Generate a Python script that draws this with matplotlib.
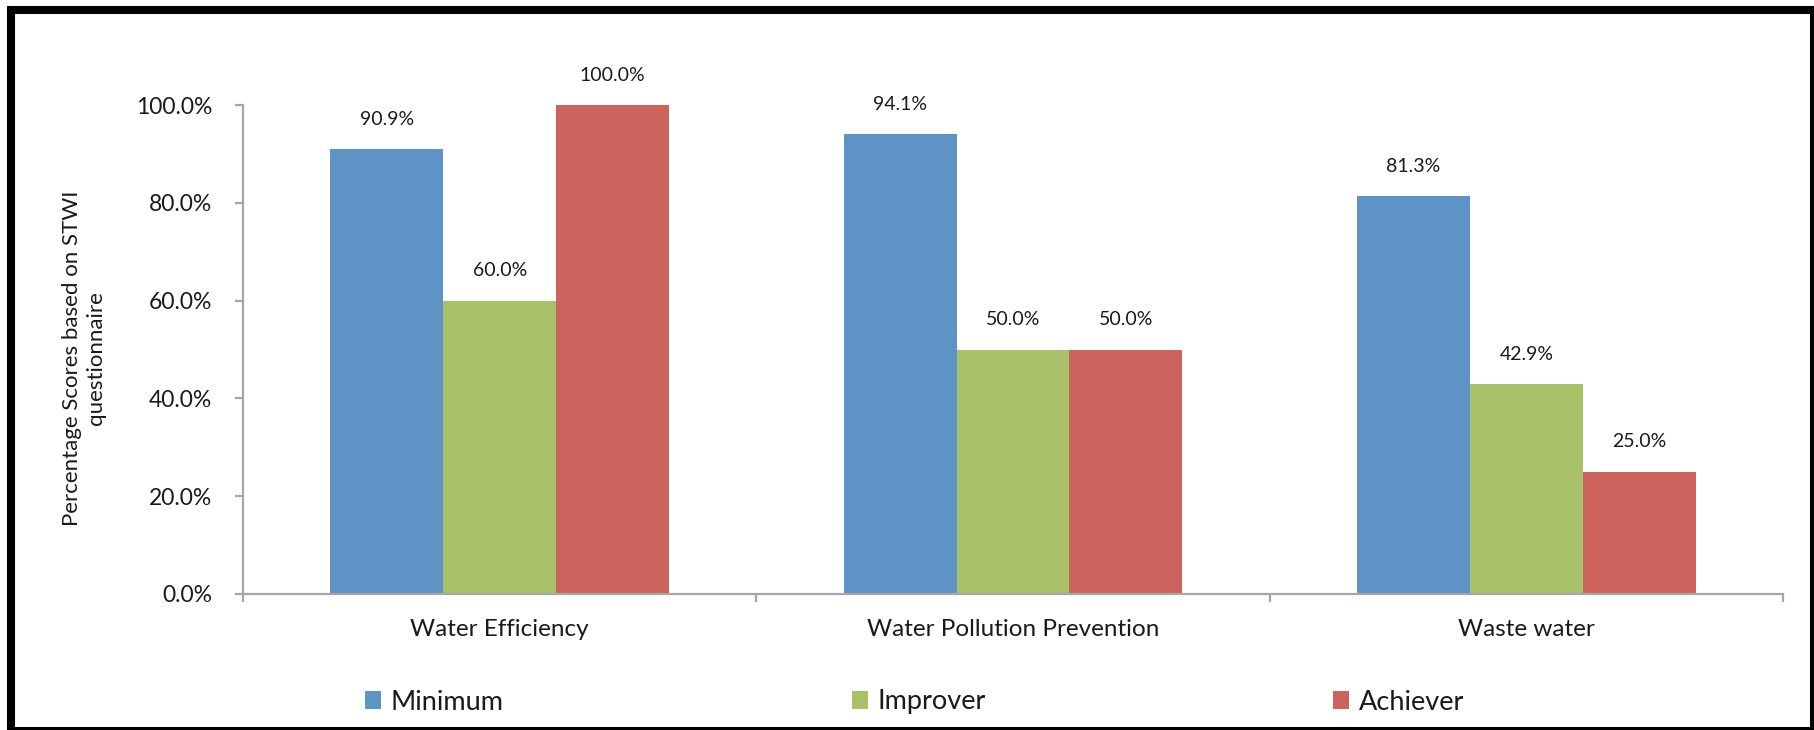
import matplotlib
matplotlib.use("Agg")
import matplotlib.pyplot as plt
from matplotlib.patches import Rectangle
from matplotlib.ticker import FuncFormatter, FixedLocator

plt.rcParams["font.family"] = ["Lato", "DejaVu Sans"]

# Chart data
categories = ["Water Efficiency", "Water Pollution Prevention", "Waste water"]
series_names = ["Minimum", "Improver", "Achiever"]
minimum = [0.909, 0.941, 0.813]
improver = [0.600, 0.500, 0.429]
achiever = [1.000, 0.500, 0.250]
colors = ["#5E93C6", "#A9C169", "#CC635D"]

W, H = 1815, 730
fig = plt.figure(figsize=(W / 100, H / 100), dpi=100)
ax = fig.add_axes([243 / W, 1 - 594 / H, (1783 - 243) / W, (594 - 105) / H])

bar_w = 0.22
x = list(range(len(categories)))
all_series = [minimum, improver, achiever]
bars = []
for i, vals in enumerate(all_series):
    pos = [xi + (i - 1) * bar_w for xi in x]
    b = ax.bar(pos, vals, width=bar_w, color=colors[i], edgecolor="none",
               label=series_names[i])
    bars.append(b)
    for p, v in zip(pos, vals):
        ax.annotate(f"{v:.1%}", (p, v), xytext=(0, 17.5), textcoords="offset points",
                    ha="center", va="baseline", fontsize=14, color="#1a1a1a")

ax.set_xlim(-0.5, 2.5)
ax.set_ylim(0, 1.0)

axis_grey = "#A6A6A6"
for side in ["top", "right"]:
    ax.spines[side].set_visible(False)
for side in ["left", "bottom"]:
    ax.spines[side].set_color(axis_grey)
    ax.spines[side].set_linewidth(1.6)

ax.yaxis.set_major_locator(FixedLocator([0, 0.2, 0.4, 0.6, 0.8, 1.0]))
ax.yaxis.set_major_formatter(FuncFormatter(lambda v, _: f"{v:.1%}"))
ax.tick_params(axis="y", direction="out", length=6, width=1.6, color=axis_grey,
               pad=16, labelsize=16.5, labelcolor="#1a1a1a")

ax.xaxis.set_major_locator(FixedLocator([-0.5, 0.5, 1.5, 2.5]))
ax.xaxis.set_major_formatter(FuncFormatter(lambda v, _: ""))
ax.xaxis.set_minor_locator(FixedLocator(x))
ax.set_xticklabels(categories, minor=True)
ax.tick_params(axis="x", which="major", direction="out", length=6, width=1.6,
               color=axis_grey)
ax.tick_params(axis="x", which="minor", length=0, pad=18, labelsize=17.5,
               labelcolor="#1a1a1a")

fig.text(84 / W, 1 - 358 / H, "Percentage Scores based on STWI\nquestionnaire",
         rotation=90, ha="center", va="center", multialignment="center",
         fontsize=16, color="#1a1a1a")

# legend entries spread evenly along the bottom, like the original
legend_x = [365, 852, 1333]
for b, name, lx in zip(bars, series_names, legend_x):
    leg = fig.legend([b], [name], loc="center left",
                     bbox_to_anchor=(lx / W, 1 - 702 / H), frameon=False,
                     borderpad=0, borderaxespad=0, handlelength=0.6,
                     handleheight=0.6, handletextpad=0.35, fontsize=19.5)
    for t in leg.get_texts():
        t.set_color("#1a1a1a")

# outer black frame
fig.patches.append(Rectangle((11 / W, -1 / H), (1814 - 11) / W, (731 - 10) / H,
                             transform=fig.transFigure, fill=False,
                             edgecolor="black", linewidth=5.8))

fig.savefig("out.png", dpi=100)
